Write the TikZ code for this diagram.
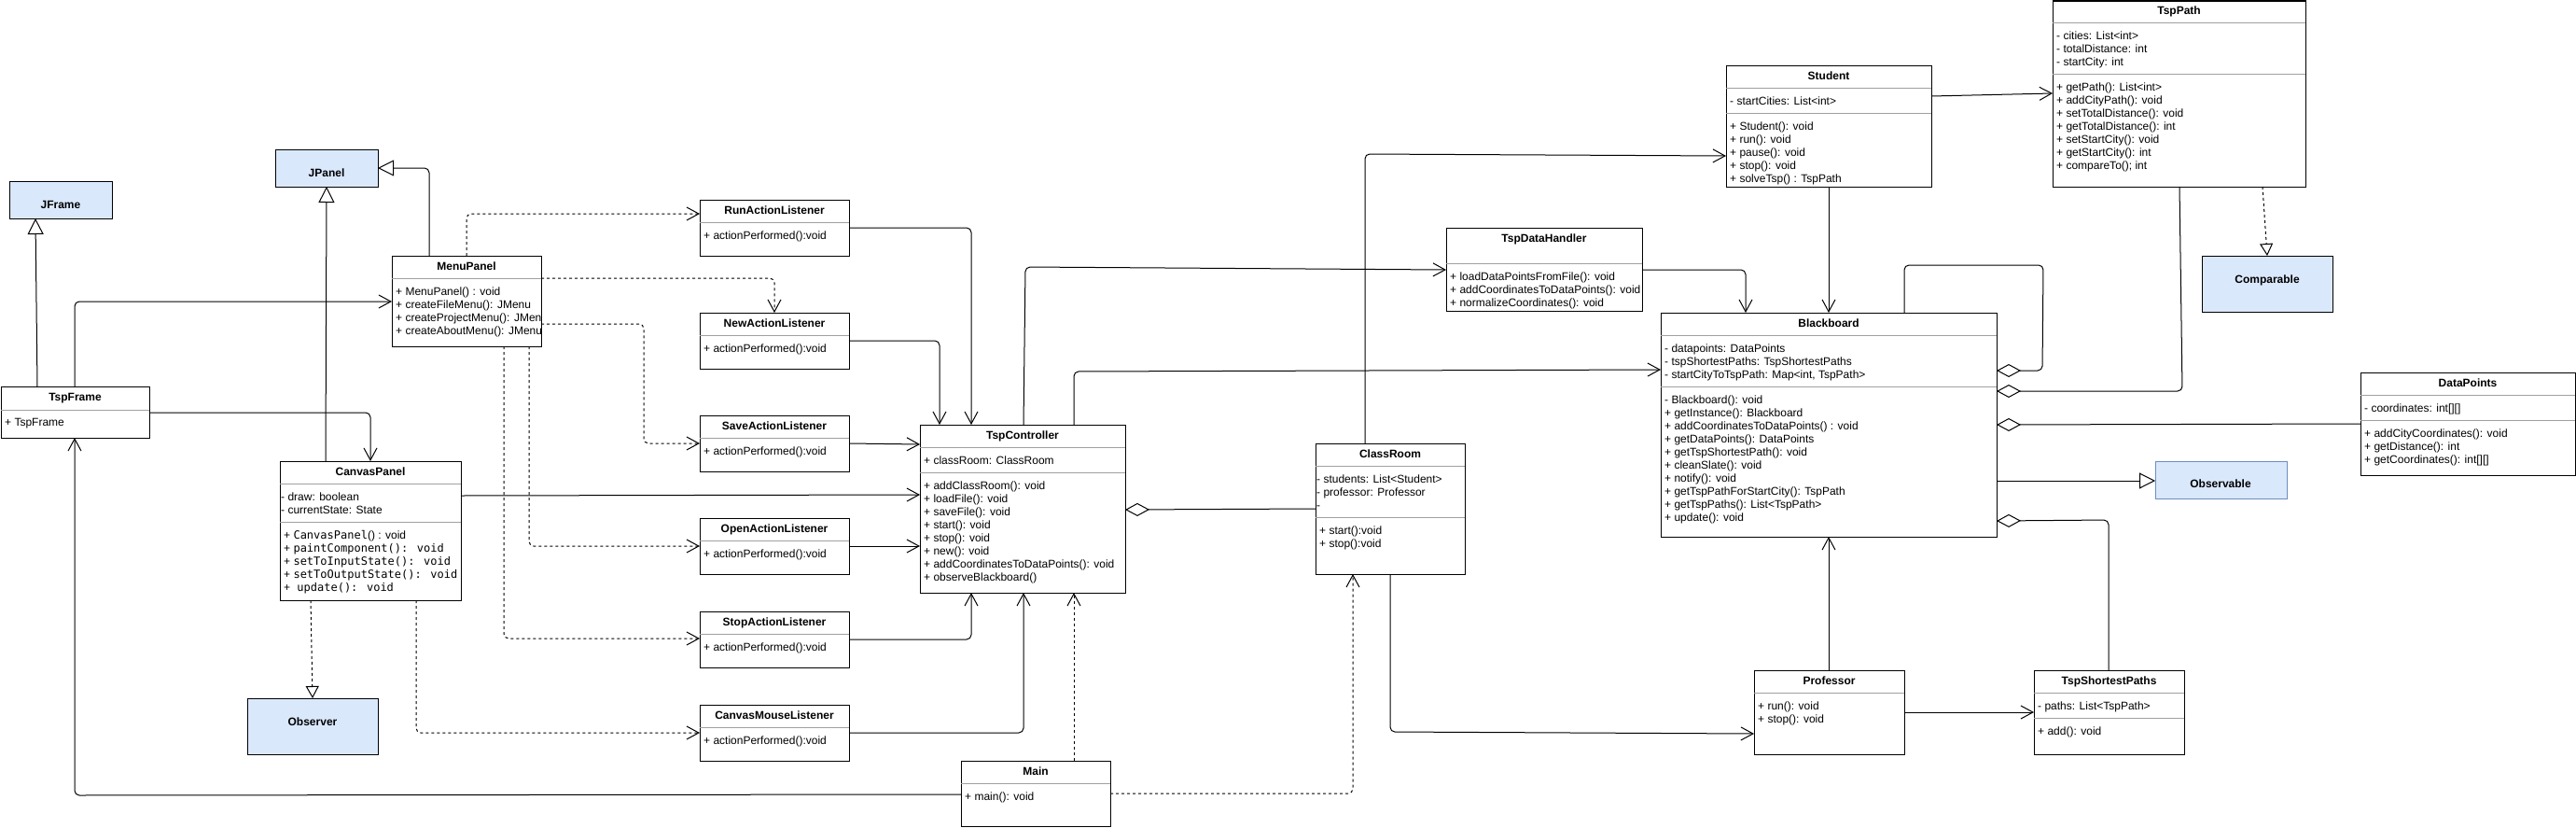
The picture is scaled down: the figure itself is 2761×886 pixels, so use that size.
\documentclass[tikz,border=0pt]{standalone}
\usepackage{fontspec}
\setmainfont{Liberation Sans}
\newfontfamily\monof{DejaVu Sans Mono}
\usetikzlibrary{arrows.meta}
\definecolor{bluefill}{HTML}{DAE8FC}
\definecolor{blueline}{HTML}{6C8EBF}
\definecolor{sepgray}{HTML}{A0A0A0}
\tikzset{
 cls/.style={draw=black, line width=1pt, fill=white, anchor=north west, inner sep=0pt, outer sep=0pt, rectangle},
 iface/.style={cls, fill=bluefill},
 ttl/.style={anchor=base, inner sep=0pt, font=\fontsize{12}{14}\selectfont\bfseries},
 mem/.style={anchor=base west, inner sep=0pt, font=\fontsize{12}{14}\selectfont},
 sepl/.style={draw=sepgray, line width=1pt},
 conn/.style={draw=black, line width=1pt, rounded corners=5pt},
 assoc/.style={conn, -{Straight Barb[length=13pt,width=14pt]}},
 dep/.style={assoc, dash pattern=on 3pt off 3pt},
 inh/.style={conn, -{Triangle[length=17pt,width=17pt,fill=white]}},
 realiz/.style={conn, dash pattern=on 3pt off 3pt, -{Triangle[length=13pt,width=14pt,fill=white]}},
 aggr/.style={conn, {Diamond[length=26pt,width=14pt,fill=white]}-},
}
\newcommand\uclass[6]{\node[cls, minimum width=#4pt, minimum height=#5pt] (#1) at (#2,#3) {};
 \node[ttl] at ([yshift=-15pt]#1.north) {#6};}
\newcommand\usep[2]{\draw[sepl] (#1.west |- 0,#2) -- (#1.east |- 0,#2);}
\newcommand\ulines[4][4]{\foreach \itm [count=\idx from 0] in {#4} {\pgfmathsetmacro\yy{#3+14*\idx+4}\node[mem, xshift=#1pt] at (#2.west |- 0,\yy) {\itm};}}
\begin{document}
\begin{tikzpicture}[x=1pt,y=-1pt]
\fill[white] (0,0) rectangle (2761,886);
\useasboundingbox (0,0) rectangle (2761,886);

% interfaces / library classes
\node[iface, minimum width=110pt, minimum height=40pt] (jframe) at (10,194) {};
\node[ttl] at (65,223) {JFrame};
\node[iface, minimum width=110pt, minimum height=40pt] (jpanel) at (295,160) {};
\node[ttl] at (350,189) {JPanel};
\node[iface, minimum width=140pt, minimum height=60pt] (observer) at (265,748) {};
\node[ttl] at (335,777) {Observer};
\node[iface, minimum width=140pt, minimum height=60pt] (comparable) at (2360,274) {};
\node[ttl] at (2430,303) {Comparable};
\node[iface, draw=blueline, minimum width=141pt, minimum height=40pt] (observable) at (2310,494) {};
\node[ttl] at (2380,522) {Observable};

% TspFrame
\uclass{tspframe}{1}{414}{159}{55}{TspFrame}
\usep{tspframe}{439}
\ulines{tspframe}{452}{+ TspFrame}

% MenuPanel
\uclass{menu}{420}{274}{160}{97}{MenuPanel}
\usep{menu}{298}
\begin{scope}
\clip (menu.north west) rectangle (menu.south east);
\ulines{menu}{312}{+ MenuPanel() : void, + createFileMenu(): JMenu, + createProjectMenu(): JMenu, + createAboutMenu(): JMenu}
\end{scope}

% CanvasPanel
\uclass{canvas}{300}{494}{194}{149}{CanvasPanel}
\usep{canvas}{518}
\ulines[1]{canvas}{532}{- draw: boolean, - currentState: State}
\usep{canvas}{559}
\ulines{canvas}{573}{+ {\monof CanvasPanel}() : void, + {\monof paintComponent(): void}, + {\monof setToInputState(): void}, + {\monof setToOutputState(): void}, +{\monof\ update(): void}}

% Listeners
\uclass{run}{750}{214}{160}{60}{RunActionListener}
\usep{run}{238}
\ulines{run}{252}{+ actionPerformed():void}
\uclass{newl}{750}{335}{160}{60}{NewActionListener}
\usep{newl}{359}
\ulines{newl}{373}{+ actionPerformed():void}
\uclass{save}{750}{445}{160}{60}{SaveActionListener}
\usep{save}{469}
\ulines{save}{483}{+ actionPerformed():void}
\uclass{open}{750}{555}{160}{60}{OpenActionListener}
\usep{open}{579}
\ulines{open}{593}{+ actionPerformed():void}
\uclass{stop}{750}{655}{160}{60}{StopActionListener}
\usep{stop}{679}
\ulines{stop}{693}{+ actionPerformed():void}
\uclass{cml}{750}{755}{160}{60}{CanvasMouseListener}
\usep{cml}{779}
\ulines{cml}{793}{+ actionPerformed():void}

% TspController
\uclass{ctrl}{986}{455}{220}{180}{TspController}
\usep{ctrl}{479}
\ulines{ctrl}{493}{+ classRoom: ClassRoom}
\usep{ctrl}{506}
\ulines{ctrl}{520}{+ addClassRoom(): void, + loadFile(): void, + saveFile(): void, + start(): void, + stop(): void, + new(): void, + addCoordinatesToDataPoints(): void, + observeBlackboard()}

% Main
\uclass{mainc}{1030}{815}{160}{70}{Main}
\usep{mainc}{839}
\ulines{mainc}{853}{+ main(): void}

% ClassRoom
\uclass{classroom}{1410}{475}{160}{140}{ClassRoom}
\usep{classroom}{499}
\ulines[1]{classroom}{513}{- students: List<Student>, - professor: Professor, -}
\usep{classroom}{554}
\ulines{classroom}{568}{+ start():void, + stop():void}

% Student
\uclass{student}{1850}{70}{220}{130}{Student}
\usep{student}{94}
\ulines{student}{108}{- startCities: List<int>}
\usep{student}{121}
\ulines{student}{135}{+ Student(): void, + run(): void, + pause(): void, + stop(): void, + solveTsp() : TspPath}

% TspDataHandler
\uclass{tdh}{1550}{244}{210}{89}{TspDataHandler}
\usep{tdh}{282}
\ulines{tdh}{296}{+ loadDataPointsFromFile(): void, + addCoordinatesToDataPoints(): void, + normalizeCoordinates(): void}

% TspPath
\uclass{tsppath}{2200}{1}{271}{199}{TspPath}
\usep{tsppath}{24}
\ulines{tsppath}{38}{- cities: List<int>, - totalDistance: int, - startCity: int}
\usep{tsppath}{79}
\ulines{tsppath}{93}{+ getPath(): List<int>, + addCityPath(): void, + setTotalDistance(): void, + getTotalDistance(): int, + setStartCity(): void, + getStartCity(): int, + compareTo(); int}

% Blackboard
\uclass{bb}{1780}{335}{360}{240}{Blackboard}
\usep{bb}{359}
\ulines{bb}{373}{- datapoints: DataPoints, - tspShortestPaths: TspShortestPaths, {- startCityToTspPath: Map<int, TspPath>}}
\usep{bb}{414}
\ulines{bb}{428}{- Blackboard(): void, + getInstance(): Blackboard, + addCoordinatesToDataPoints() : void, + getDataPoints(): DataPoints, + getTspShortestPath(): void, + cleanSlate(): void, + notify(): void, + getTspPathForStartCity(): TspPath, + getTspPaths(): List<TspPath>, + update(): void}

% DataPoints
\uclass{dp}{2530}{399}{230}{110}{DataPoints}
\usep{dp}{423}
\ulines{dp}{437}{- coordinates: int[][]}
\usep{dp}{450}
\ulines{dp}{464}{+ addCityCoordinates(): void, + getDistance(): int, + getCoordinates(): int[][]}

% Professor
\uclass{prof}{1880}{718}{161}{90}{Professor}
\usep{prof}{742}
\ulines{prof}{756}{+ run(): void, + stop(): void}

% TspShortestPaths
\uclass{tsp}{2180}{718}{161}{90}{TspShortestPaths}
\usep{tsp}{742}
\ulines{tsp}{756}{- paths: List<TspPath>}
\usep{tsp}{769}
\ulines{tsp}{783}{+ add(): void}

% ---------- connectors ----------
\draw[inh] (tspframe.north -| 40,0) -- (jframe.south -| 38,0);
\draw[assoc] (tspframe.north -| 80,0) -- (80,323) -- (menu.west |- 0,323);
\draw[assoc] (tspframe.east |- 0,442) -- (397,442) -- (canvas.north -| 397,0);
\draw[inh] (canvas.north -| 349,0) -- (jpanel.south -| 350,0);
\draw[inh] (menu.north -| 460,0) -- (460,180) -- (jpanel.east |- 0,180);
\draw[realiz] (canvas.south -| 333,0) -- (observer.north -| 335,0);
\draw[dep] (canvas.south -| 446,0) -- (446,785) -- (cml.west |- 0,785);
\draw[assoc] (canvas.east |- 0,531) -- (ctrl.west |- 0,530);

\draw[dep] (menu.north -| 500,0) -- (500,229) -- (run.west |- 0,229);
\draw[dep] (menu.east |- 0,298) -- (830,298) -- (newl.north -| 830,0);
\draw[dep] (menu.east |- 0,347) -- (690,347) -- (690,475) -- (save.west |- 0,475);
\draw[dep] (menu.south -| 567,0) -- (567,585) -- (open.west |- 0,585);
\draw[dep] (menu.south -| 540,0) -- (540,684) -- (stop.west |- 0,684);

\draw[assoc] (run.east |- 0,244) -- (1041,244) -- (ctrl.north -| 1041,0);
\draw[assoc] (newl.east |- 0,365) -- (1007,365) -- (ctrl.north -| 1007,0);
\draw[assoc] (save.east |- 0,475) -- (ctrl.west |- 0,476);
\draw[assoc] (open.east |- 0,585) -- (ctrl.west |- 0,585);
\draw[assoc] (stop.east |- 0,685) -- (1041,685) -- (ctrl.south -| 1041,0);
\draw[assoc] (cml.east |- 0,785) -- (1097,785) -- (ctrl.south -| 1097,0);

\draw[dep] (mainc.north -| 1151,0) -- (ctrl.south -| 1151,0);
\draw[dep] (mainc.east |- 0,850) -- (1450,850) -- (classroom.south -| 1450,0);
\draw[assoc] (mainc.west |- 0,851) -- (80,852) -- (tspframe.south -| 80,0);

\draw[assoc] (ctrl.north -| 1097,0) -- (1099,286) -- (tdh.west |- 0,289);
\draw[assoc] (ctrl.north -| 1151,0) -- (1151,398) -- (bb.west |- 0,396);
\draw[aggr] (ctrl.east |- 0,546) -- (classroom.west |- 0,545);

\draw[assoc] (classroom.north -| 1463,0) -- (1463,165) -- (student.west |- 0,167);
\draw[assoc] (classroom.south -| 1490,0) -- (1490,784) -- (prof.west |- 0,786);

\draw[assoc] (student.east |- 0,103) -- (tsppath.west |- 0,100);
\draw[assoc] (student.south -| 1960,0) -- (bb.north -| 1960,0);
\draw[assoc] (tdh.east |- 0,289) -- (1871,289) -- (bb.north -| 1871,0);

\draw[aggr] (bb.east |- 0,397) -- (2189,397) -- (2190,284) -- (2041,284) -- (bb.north -| 2041,0);
\draw[aggr] (bb.east |- 0,419) -- (2339,419) -- (tsppath.south -| 2336,0);
\draw[aggr] (bb.east |- 0,455) -- (dp.west |- 0,454);
\draw[inh] (bb.east |- 0,515) -- (observable.west |- 0,515);
\draw[aggr] (bb.east |- 0,558) -- (2260,557) -- (tsp.north -| 2260,0);

\draw[assoc] (prof.north -| 1960,0) -- (bb.south -| 1960,0);
\draw[assoc] (prof.east |- 0,763) -- (tsp.west |- 0,763);
\draw[realiz] (tsppath.south -| 2425,0) -- (comparable.north -| 2430,0);
\end{tikzpicture}
\end{document}
